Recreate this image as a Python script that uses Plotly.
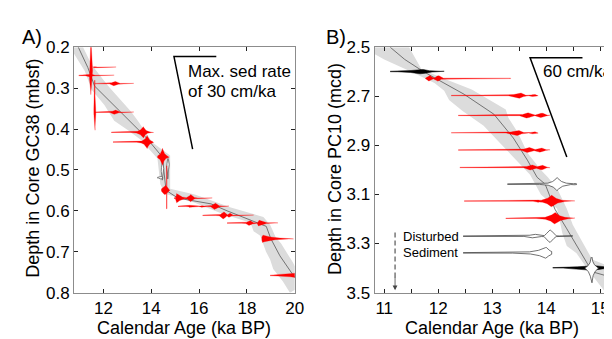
import numpy as np
import plotly.graph_objects as go

FONT = "Liberation Sans, Arial, Helvetica, sans-serif"

# ---------------- Panel A (core GC38) ----------------
A_med_age = [10.95, 11.35, 11.63, 13.76, 14.46, 14.6, 14.62, 15.12, 16.5, 17.17, 18.81, 19.0, 19.38, 19.92, 20.1]
A_med_depth = [0.20, 0.25, 0.295, 0.419, 0.468, 0.53, 0.55, 0.569, 0.583, 0.60, 0.638, 0.668, 0.71, 0.756, 0.77]

A_band_ur_age = [11.15, 11.5, 12.2, 12.74, 13.15, 13.44, 13.97, 14.05, 14.79, 14.79, 15.82, 17.33, 18.69, 18.97, 19.2, 19.43, 19.92, 20.4]
A_band_ur_depth = [0.20, 0.242, 0.295, 0.33, 0.357, 0.38, 0.426, 0.433, 0.465, 0.546, 0.56, 0.592, 0.615, 0.634, 0.664, 0.68, 0.726, 0.78]
A_band_ll_age = [10.6, 11.22, 11.51, 12.04, 12.45, 13.03, 13.56, 14.26, 14.38, 14.58, 15.82, 16.92, 18.15, 18.28, 18.56, 18.8, 18.97, 19.1, 19.5, 19.8]
A_band_ll_depth = [0.20, 0.258, 0.304, 0.341, 0.38, 0.403, 0.426, 0.472, 0.535, 0.558, 0.58, 0.606, 0.629, 0.65, 0.661, 0.70, 0.719, 0.742, 0.772, 0.80]

# horizontal (age) probability shapes: depth, age span, peaks (centre, left width, right width, density)
A_h_depth = [0.249, 0.269, 0.289, 0.359, 0.408, 0.432, 0.468, 0.549, 0.569, 0.589, 0.611, 0.630, 0.668, 0.758]
A_h_lo = [11.58, 10.97, 11.64, 11.64, 12.33, 12.40, 14.26, 14.42, 14.95, 15.12, 16.15, 17.17, 18.62, 18.97]
A_h_hi = [12.53, 12.45, 13.27, 13.27, 14.10, 14.10, 14.75, 14.78, 16.55, 17.25, 18.28, 19.30, 19.95, 20.60]
A_h_peaks = [
    [(11.62, 0.06, 0.06, 0.8)],
    [(11.45, 0.10, 0.10, 1.5)],
    [(12.47, 0.12, 0.12, 2.6)],
    [(12.49, 0.12, 0.12, 2.6)],
    [(13.67, 0.14, 0.10, 6.0)],
    [(13.83, 0.12, 0.09, 7.0)],
    [(14.47, 0.09, 0.09, 9.0)],
    [(14.58, 0.13, 0.13, 5.0)],
    [(15.06, 0.02, 0.18, 5.0), (15.65, 0.10, 0.10, 4.0)],
    [(15.60, 0.04, 0.04, 1.2), (16.10, 0.04, 0.04, 1.2), (16.66, 0.10, 0.12, 3.6)],
    [(17.02, 0.10, 0.10, 4.0), (17.27, 0.06, 0.08, 2.6)],
    [(18.11, 0.10, 0.10, 3.0), (18.48, 0.02, 0.22, 3.2)],
    [(18.65, 0.03, 0.40, 4.0)],
    [(20.30, 0.60, 0.10, 3.2)],
]
A_h_kind = [2, 2, 1.6, 1.6, 1, 1, 1, 2, 1.2, 1.4, 1.4, 1.3, 1, 1]

# vertical (depth) probability shapes: age, depth span, peaks (centre, upper width, lower width, density)
A_v_age = [11.48, 11.64, 14.65]
A_v_top = [0.19, 0.281, 0.49]
A_v_bot = [0.316, 0.403, 0.595]
A_v_peaks = [
    [(0.269, 0.035, 0.02, 2.0)],
    [(0.357, 0.02, 0.02, 1.2)],
    [(0.549, 0.02, 0.02, 1.0)],
]

# disturbed (open) shapes in GC38
A_w_age = [14.47, 14.70]
A_w_top = [0.478, 0.472]
A_w_bot = [0.525, 0.522]
A_w_peaks = [[(0.50, 0.01, 0.01, 1.4)], [(0.49, 0.01, 0.01, 1.4)]]

A_rate_age = [16.72, 14.95, 15.73]
A_rate_depth = [0.223, 0.223, 0.449]

# ---------------- Panel B (core PC10) ----------------
B_med_age = [11.11, 11.38, 11.73, 12.06, 12.48, 13.03, 13.39, 13.65, 13.83, 13.98, 14.16, 14.38, 14.67, 14.85, 15.25]
B_med_depth = [2.50, 2.55, 2.60, 2.64, 2.692, 2.773, 2.87, 2.96, 3.03, 3.058, 3.16, 3.24, 3.345, 3.415, 3.44]

B_band_ur_age = [11.46, 11.69, 12.10, 12.62, 13.25, 13.30, 13.47, 13.65, 13.90, 14.03, 14.21, 14.38, 14.49, 14.65, 14.85, 15.30]
B_band_ur_depth = [2.50, 2.59, 2.627, 2.672, 2.754, 2.788, 2.846, 2.93, 3.00, 3.03, 3.08, 3.158, 3.223, 3.288, 3.365, 3.404]
B_band_ll_age = [10.60, 11.00, 11.50, 11.93, 12.11, 12.20, 12.45, 12.84, 13.12, 13.45, 13.70, 13.90, 14.20, 14.30, 14.38, 14.56, 14.80, 15.10]
B_band_ll_depth = [2.50, 2.55, 2.60, 2.646, 2.677, 2.715, 2.76, 2.82, 2.885, 2.96, 3.02, 3.10, 3.158, 3.26, 3.31, 3.34, 3.415, 3.50]

B_h_depth = [2.599, 3.399, 2.627, 2.697, 2.778, 2.849, 2.919, 2.990, 3.127, 3.197, 3.058, 3.270, 3.338]
B_h_type = ["excluded", "excluded", "used", "used", "used", "used", "used", "used", "used", "used",
            "disturbed", "disturbed", "disturbed"]
B_h_lo = [11.11, 14.12, 11.76, 12.24, 12.37, 12.24, 12.37, 12.40, 12.48, 13.25, 13.28, 12.46, 12.46]
B_h_hi = [12.11, 15.50, 13.34, 13.85, 14.07, 13.85, 14.07, 14.07, 14.53, 14.53, 14.56, 14.49, 14.10]
B_h_peaks = [
    [(11.69, 0.20, 0.12, 2.8)],
    [(14.85, 0.30, 0.20, 2.6)],
    [(11.84, 0.05, 0.05, 3.0), (12.00, 0.05, 0.05, 3.0), (12.83, 0.10, 0.10, 1.0)],
    [(13.52, 0.12, 0.06, 3.0), (13.77, 0.05, 0.05, 1.5)],
    [(13.65, 0.08, 0.08, 3.0), (13.92, 0.08, 0.06, 2.6)],
    [(13.48, 0.12, 0.06, 3.0), (13.77, 0.05, 0.05, 1.5)],
    [(13.67, 0.08, 0.08, 3.0), (13.90, 0.08, 0.06, 2.6)],
    [(13.72, 0.08, 0.08, 3.0), (13.92, 0.08, 0.06, 2.6)],
    [(13.85, 0.05, 0.05, 1.5), (14.10, 0.10, 0.10, 6.5)],
    [(13.60, 0.05, 0.05, 1.0), (14.16, 0.10, 0.10, 6.5)],
    [(14.20, 0.09, 0.09, 7.0), (14.53, 0.03, 0.03, 1.2)],
    [(13.78, 0.10, 0.10, 2.0), (14.07, 0.07, 0.07, 6.5)],
    [(14.00, 0.18, 0.07, 6.0)],
]
B_h_kind = [1, 1.5, 2, 1.5, 1.5, 1.5, 1.5, 1.5, 1, 1, 1, 2, 1]

B_v_age = [14.84]
B_v_top = [3.355]
B_v_bot = [3.46]
B_v_peaks = [[(3.40, 0.015, 0.02, 7.0)]]

B_rate_age = [14.67, 13.70, 14.38]
B_rate_depth = [2.543, 2.543, 2.947]

B_arrow_age = 11.2
B_arrow_depth = [3.255, 3.49]

# ---------------- layout geometry ----------------
W, H = 612, 339
A_xr = [10.77, 20.0]
A_yr = [0.8, 0.2]
B_xr = [10.82, 15.18]
B_yr = [3.5, 2.5]
A_dom = [67 / W, 291 / W]
B_dom = [372 / W, 611 / W]
Y_dom = [(H - 292) / H, (H - 32) / H]

def px_scale(xr, dom, yr):
    kx = (xr[1] - xr[0]) / ((dom[1] - dom[0]) * W)
    ky = abs(yr[0] - yr[1]) / ((Y_dom[1] - Y_dom[0]) * H)
    return kx, ky

kA = px_scale(A_xr, A_dom, A_yr)
kB = px_scale(B_xr, B_dom, B_yr)

def profile(g, peaks, p, base=0.25):
    th = np.full(g.shape, base)
    for c, sl, sr, a in peaks:
        s = np.where(g < c, sl, sr)
        th = np.maximum(th, a * np.exp(-(np.abs(g - c) / s) ** p))
    return th

fig = go.Figure()

def poly(x, y, xa, ya, fill, line, lw):
    fig.add_trace(go.Scatter(x=x, y=y, xaxis=xa, yaxis=ya, mode="lines", fill="toself",
                             fillcolor=fill, line=dict(color=line, width=lw),
                             hoverinfo="skip", showlegend=False))

def hshape(d, lo, hi, peaks, p, k, xa, ya, fill, line, lw):
    g = np.linspace(lo, hi, 400)
    th = profile(g, peaks, p) * k[1]
    x = np.concatenate([g, g[::-1]])
    y = np.concatenate([d - th, (d + th)[::-1]])
    poly(x, y, xa, ya, fill, line, lw)

def vshape(a, top, bot, peaks, p, k, xa, ya, fill, line, lw):
    g = np.linspace(top, bot, 400)
    th = profile(g, peaks, p) * k[0]
    y = np.concatenate([g, g[::-1]])
    x = np.concatenate([a - th, (a + th)[::-1]])
    poly(x, y, xa, ya, fill, line, lw)

BAND = "#dcdcdc"
MED = "#666666"
RED = "#ff0000"
REDL = "rgba(255,0,0,0.5)"

# Panel A
poly(A_band_ur_age + A_band_ll_age[::-1], A_band_ur_depth + A_band_ll_depth[::-1], "x", "y", BAND, BAND, 0)
fig.add_trace(go.Scatter(x=A_med_age, y=A_med_depth, xaxis="x", yaxis="y", mode="lines",
                         line=dict(color=MED, width=0.9), hoverinfo="skip", showlegend=False))
for a, t, b, pk in zip(A_w_age, A_w_top, A_w_bot, A_w_peaks):
    vshape(a, t, b, pk, 2, kA, "x", "y", "white", "#555", 0.7)
hshape(0.519, 14.25, 14.5, [(14.4, 0.05, 0.05, 1.5)], 2, kA, "x", "y", "white", "#555", 0.7)
for a, t, b, pk in zip(A_v_age, A_v_top, A_v_bot, A_v_peaks):
    vshape(a, t, b, pk, 1.5, kA, "x", "y", RED, REDL, 0.5)
for d, lo, hi, pk, p in zip(A_h_depth, A_h_lo, A_h_hi, A_h_peaks, A_h_kind):
    hshape(d, lo, hi, pk, p, kA, "x", "y", RED, REDL, 0.5)
fig.add_trace(go.Scatter(x=A_rate_age, y=A_rate_depth, xaxis="x", yaxis="y", mode="lines",
                         line=dict(color="black", width=1.5), hoverinfo="skip", showlegend=False))

# Panel B
poly(B_band_ur_age + B_band_ll_age[::-1], B_band_ur_depth + B_band_ll_depth[::-1], "x2", "y2", BAND, BAND, 0)
fig.add_trace(go.Scatter(x=B_med_age, y=B_med_depth, xaxis="x2", yaxis="y2", mode="lines",
                         line=dict(color=MED, width=0.9), hoverinfo="skip", showlegend=False))
style = {"excluded": ("black", "black", 0.5),
         "used": (RED, REDL, 0.5),
         "disturbed": ("white", "#333", 0.7)}
for d, typ, lo, hi, pk, p in zip(B_h_depth, B_h_type, B_h_lo, B_h_hi, B_h_peaks, B_h_kind):
    f, l, w = style[typ]
    hshape(d, lo, hi, pk, p, kB, "x2", "y2", f, l, w)
for a, t, b, pk in zip(B_v_age, B_v_top, B_v_bot, B_v_peaks):
    vshape(a, t, b, pk, 1, kB, "x2", "y2", "white", "#333", 0.7)
fig.add_trace(go.Scatter(x=B_rate_age, y=B_rate_depth, xaxis="x2", yaxis="y2", mode="lines",
                         line=dict(color="black", width=1.5), hoverinfo="skip", showlegend=False))
fig.add_trace(go.Scatter(x=[B_arrow_age, B_arrow_age], y=[B_arrow_depth[0], 3.44], xaxis="x2", yaxis="y2",
                         mode="lines", line=dict(color="#333", width=1, dash="5px,3px"),
                         hoverinfo="skip", showlegend=False))

axis_common = dict(showline=True, linecolor="#8c8c8c", linewidth=1, mirror="ticks", ticks="inside",
                   ticklen=4, tickcolor="#222", tickwidth=1, showgrid=False, zeroline=False,
                   tickfont=dict(family=FONT, size=17, color="black"))

A_xticks = [12, 14, 16, 18, 20]
A_yticks = [0.2, 0.3, 0.4, 0.5, 0.6, 0.7, 0.8]
B_xticks = [11, 11.5, 12, 12.5, 13, 13.5, 14, 14.5, 15]
B_yticks = [2.5, 2.7, 2.9, 3.1, 3.3, 3.5]

fig.update_layout(
    width=W, height=H, margin=dict(l=0, r=0, t=0, b=0),
    paper_bgcolor="white", plot_bgcolor="white",
    xaxis=dict(domain=A_dom, range=A_xr, anchor="y", tickvals=A_xticks,
               ticktext=[str(v) for v in A_xticks], **axis_common),
    yaxis=dict(domain=Y_dom, range=A_yr, anchor="x", tickvals=A_yticks,
               ticktext=[f"{v:.1f}" for v in A_yticks], **axis_common),
    xaxis2=dict(domain=B_dom, range=B_xr, anchor="y2", tickvals=B_xticks,
                ticktext=[str(int(v)) if v == int(v) else "" for v in B_xticks], **axis_common),
    yaxis2=dict(domain=Y_dom, range=B_yr, anchor="x2", tickvals=B_yticks,
                ticktext=[f"{v:.1f}" for v in B_yticks], **axis_common),
)

def ann(text, x, y, size, xanchor="center", yanchor="middle", angle=0):
    fig.add_annotation(text=text, x=x / W, y=1 - y / H, xref="paper", yref="paper",
                       xanchor=xanchor, yanchor=yanchor, showarrow=False, textangle=angle,
                       font=dict(family=FONT, size=size, color="black"))

ann("A)", 12, 21, 20, "left")
ann("B)", 321, 21, 20, "left")
ann("Depth in Core GC38 (mbsf)", 25, 160, 18, angle=-90)
ann("Depth in Core PC10 (mcd)", 332, 161, 18, angle=-90)
ann("Calendar Age (ka BP)", 179, 329, 18)
ann("Calendar Age (ka BP)", 491, 329, 18)
ann("Max. sed rate", 181, 58, 17, "left")
ann("of 30 cm/ka", 181, 79, 17, "left")
ann("60 cm/ka", 541, 58, 17, "left")
ann("Disturbed", 399, 233, 13, "left")
ann("Sediment", 399, 249, 13, "left")

fig.add_annotation(x=B_arrow_age, y=B_arrow_depth[1], ax=B_arrow_age, ay=3.43, xref="x2", yref="y2",
                   axref="x2", ayref="y2", text="", showarrow=True, arrowhead=2, arrowsize=1.2,
                   arrowwidth=0.8, arrowcolor="#444")

fig.write_html("out.html")
